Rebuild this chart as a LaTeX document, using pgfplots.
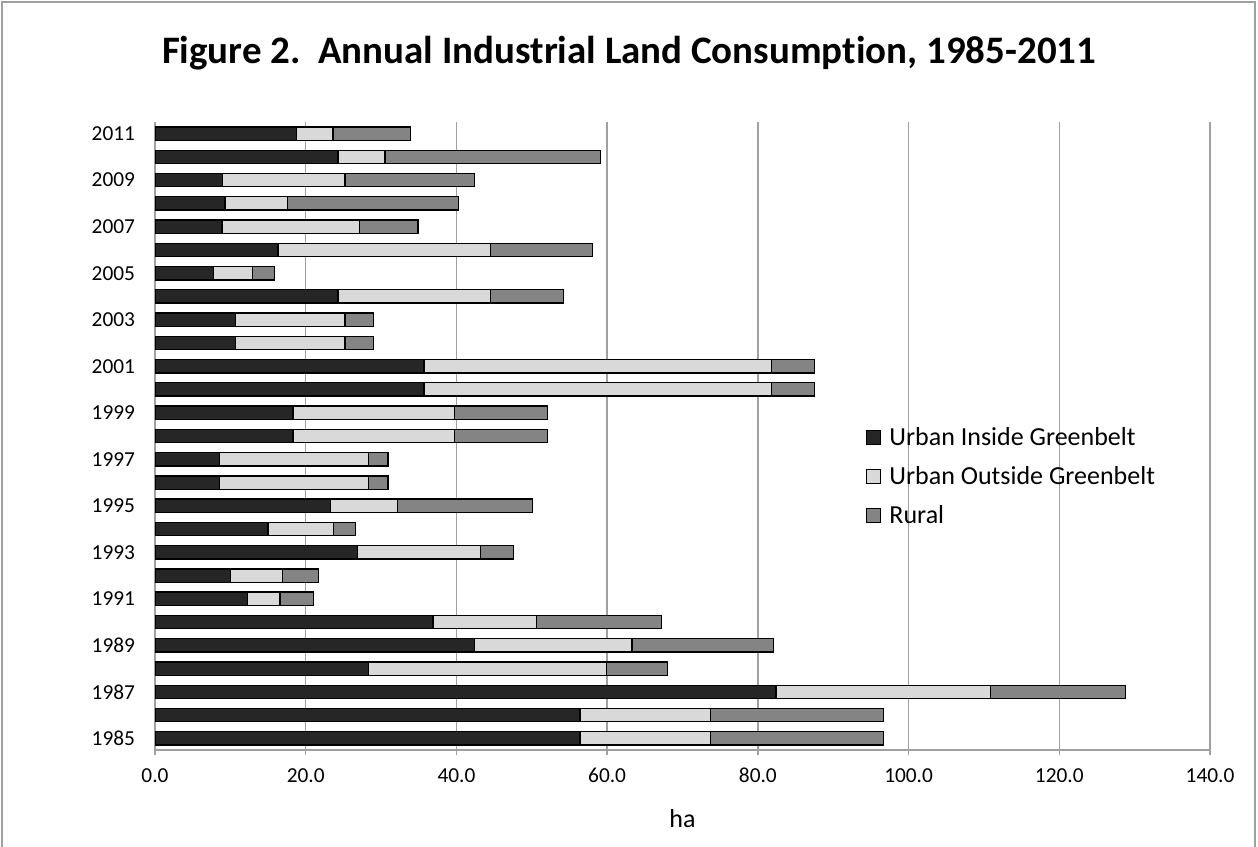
\documentclass[border=0pt]{standalone}
\usepackage{fontspec}
\setmainfont{Carlito}[Ligatures=NoCommon]
\usepackage{pgfplots}
\pgfplotsset{compat=1.18}
\usepackage{pgfplotstable}
\definecolor{cInside}{HTML}{262626}
\definecolor{cOutside}{HTML}{D9D9D9}
\definecolor{cRural}{HTML}{848484}
\definecolor{gridgray}{HTML}{A0A0A0}

\pgfplotstableread{
year inside outside rural
1985 56.4 17.3 23.0
1986 56.4 17.3 23.0
1987 82.4 28.5 17.9
1988 28.3 31.6 8.1
1989 42.4 20.9 18.8
1990 36.9 13.7 16.6
1991 12.3 4.3 4.4
1992 10.0 6.9 4.8
1993 26.9 16.3 4.4
1994 15.0 8.7 2.9
1995 23.3 8.9 17.9
1996 8.6 19.7 2.6
1997 8.6 19.7 2.6
1998 18.3 21.4 12.4
1999 18.3 21.4 12.4
2000 35.7 46.1 5.7
2001 35.7 46.1 5.7
2002 10.7 14.5 3.8
2003 10.7 14.5 3.8
2004 24.3 20.2 9.7
2005 7.8 5.1 3.0
2006 16.3 28.2 13.6
2007 8.9 18.2 7.8
2008 9.3 8.3 22.7
2009 9.0 16.2 17.2
2010 24.3 6.2 28.6
2011 18.8 4.8 10.3
}\landdata

\begin{document}
\begin{tikzpicture}
\path[use as bounding box] (0,0) rectangle (943.5pt,635.25pt);
\draw[gridgray, line width=1.2pt] (1.5pt,-20pt) rectangle (941.25pt,633.75pt);
\node[anchor=base, font=\bfseries\fontsize{29.2}{35}\selectfont] at (471.75pt,587.5pt)
  {Figure 2.\ \ Annual Industrial Land Consumption, 1985-2011};
\begin{axis}[
  at={(116.25pt,72.75pt)}, anchor=south west,
  width=791.25pt, height=471pt, scale only axis,
  xbar stacked, bar width=10pt,
  xmin=0, xmax=140, ymin=1984.5, ymax=2011.5,
  xtick={0,20,40,60,80,100,120,140},
  xticklabels={0.0,20.0,40.0,60.0,80.0,100.0,120.0,140.0},
  ytick={1985,1987,1989,1991,1993,1995,1997,1999,2001,2003,2005,2007,2009,2011},
  yticklabels={1985,1987,1989,1991,1993,1995,1997,1999,2001,2003,2005,2007,2009,2011},
  tick label style={font=\fontsize{16}{19}\selectfont},
  xticklabel style={anchor=base, yshift=-20.25pt},
  yticklabel style={xshift=-7.5pt},
  xmajorgrids, grid style={gridgray, line width=1.1pt},
  axis x line*=bottom, axis y line*=left,
  axis line style={gridgray, line width=1.1pt, -},
  tick align=outside, major tick length=4pt,
  xtick style={gridgray, line width=1pt},
  ytick style={draw=none},
  xlabel={ha},
  xlabel style={font=\fontsize{19.5}{23}\selectfont, at={(axis description cs:0.5,0)}, anchor=base, yshift=-57.75pt},
  legend style={at={(0.670,0.522)}, anchor=north west, draw=none, fill=none,
    font=\fontsize{19.5}{23}\selectfont, row sep=10.2pt, cells={anchor=west}},
  legend image code/.code={\draw[#1, line width=1pt] (0pt,-5.25pt) rectangle (10.5pt,5.25pt); \path (14.5pt,0pt);},
]
\addplot[fill=cInside, draw=black, line width=1pt] table[x=inside, y=year]{\landdata};
\addplot[fill=cOutside, draw=black, line width=1pt] table[x=outside, y=year]{\landdata};
\addplot[fill=cRural, draw=black, line width=1pt] table[x=rural, y=year]{\landdata};
\legend{Urban Inside Greenbelt, Urban Outside Greenbelt, Rural}
\end{axis}
\end{tikzpicture}
\end{document}
